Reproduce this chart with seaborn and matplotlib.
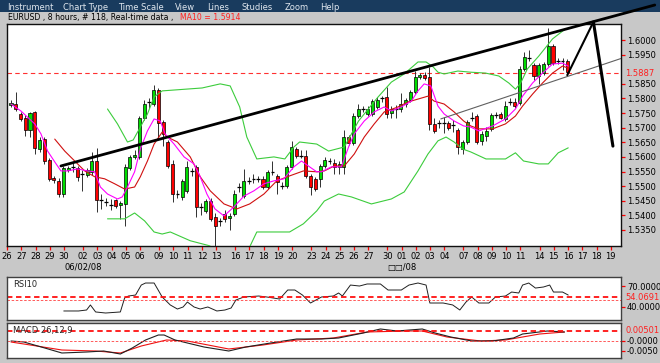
import numpy as np
import pandas as pd
import matplotlib
matplotlib.use('Agg')
import matplotlib.pyplot as plt
import matplotlib.transforms as mtransforms
from matplotlib.patches import Rectangle
import seaborn as sns

# ---------------- data ----------------
opens = [1.5778, 1.5781, 1.5747, 1.5733, 1.5692, 1.5754, 1.5627, 1.5661, 1.5589, 1.5528,
         1.5518, 1.5473, 1.5555, 1.5566, 1.5562, 1.5540, 1.5538, 1.5549, 1.5586, 1.5453,
         1.5446, 1.5436, 1.5453, 1.5436, 1.5439, 1.5562, 1.5600, 1.5600, 1.5733, 1.5788,
         1.5781, 1.5829, 1.5720, 1.5651, 1.5576, 1.5473, 1.5463, 1.5484, 1.5552, 1.5566,
         1.5429, 1.5415, 1.5449, 1.5395, 1.5379, 1.5405, 1.5391, 1.5405, 1.5497, 1.5466,
         1.5518, 1.5525, 1.5525, 1.5525, 1.5497, 1.5549, 1.5535, 1.5501, 1.5501, 1.5566,
         1.5627, 1.5603, 1.5603, 1.5535, 1.5525, 1.5525, 1.5569, 1.5586, 1.5579, 1.5566,
         1.5566, 1.5668, 1.5648, 1.5740, 1.5764, 1.5747, 1.5747, 1.5771, 1.5800, 1.5805,
         1.5750, 1.5764, 1.5764, 1.5781, 1.5795, 1.5822, 1.5873, 1.5880, 1.5873, 1.5713,
         1.5715, 1.5715, 1.5716, 1.5708, 1.5692, 1.5627, 1.5651, 1.5732, 1.5740, 1.5655,
         1.5672, 1.5696, 1.5742, 1.5747, 1.5730, 1.5787, 1.5788, 1.5785, 1.5901, 1.5937,
         1.5914, 1.5877, 1.5887, 1.5918, 1.5979, 1.5927, 1.5927, 1.5928]
highs = [1.5795, 1.5822, 1.5754, 1.5743, 1.5754, 1.5757, 1.5668, 1.5668, 1.5596, 1.5535,
         1.5528, 1.5569, 1.5569, 1.5579, 1.5569, 1.5555, 1.5562, 1.5617, 1.5631, 1.5473,
         1.5460, 1.5456, 1.5456, 1.5449, 1.5576, 1.5607, 1.5624, 1.5740, 1.5795, 1.5802,
         1.5846, 1.5836, 1.5726, 1.5658, 1.5589, 1.5487, 1.5525, 1.5586, 1.5562, 1.5572,
         1.5442, 1.5456, 1.5460, 1.5408, 1.5391, 1.5418, 1.5408, 1.5487, 1.5511, 1.5559,
         1.5532, 1.5542, 1.5535, 1.5535, 1.5555, 1.5586, 1.5542, 1.5514, 1.5572, 1.5655,
         1.5634, 1.5624, 1.5624, 1.5542, 1.5532, 1.5576, 1.5600, 1.5596, 1.5593, 1.5586,
         1.5692, 1.5675, 1.5750, 1.5781, 1.5774, 1.5774, 1.5798, 1.5805, 1.5808, 1.5839,
         1.5774, 1.5778, 1.5819, 1.5802, 1.5829, 1.5894, 1.5887, 1.5890, 1.5908, 1.5733,
         1.5726, 1.5737, 1.5723, 1.5726, 1.5699, 1.5658, 1.5726, 1.5754, 1.5747, 1.5689,
         1.5702, 1.5750, 1.5754, 1.5754, 1.5791, 1.5802, 1.5802, 1.5911, 1.5959, 1.5966,
         1.5921, 1.5921, 1.5925, 1.6041, 1.5986, 1.5938, 1.5938, 1.5935]
lows = [1.5771, 1.5757, 1.5723, 1.5672, 1.5668, 1.5610, 1.5617, 1.5576, 1.5518, 1.5511,
        1.5463, 1.5463, 1.5549, 1.5549, 1.5518, 1.5484, 1.5532, 1.5538, 1.5412, 1.5422,
        1.5432, 1.5418, 1.5425, 1.5388, 1.5364, 1.5555, 1.5593, 1.5593, 1.5726, 1.5767,
        1.5774, 1.5665, 1.5638, 1.5562, 1.5446, 1.5460, 1.5453, 1.5477, 1.5535, 1.5395,
        1.5401, 1.5408, 1.5381, 1.5292, 1.5364, 1.5377, 1.5350, 1.5398, 1.5480, 1.5460,
        1.5508, 1.5511, 1.5514, 1.5490, 1.5490, 1.5538, 1.5473, 1.5490, 1.5494, 1.5559,
        1.5596, 1.5596, 1.5528, 1.5470, 1.5484, 1.5497, 1.5562, 1.5576, 1.5542, 1.5542,
        1.5542, 1.5641, 1.5641, 1.5733, 1.5754, 1.5740, 1.5740, 1.5764, 1.5788, 1.5733,
        1.5733, 1.5733, 1.5754, 1.5771, 1.5788, 1.5815, 1.5867, 1.5863, 1.5692, 1.5682,
        1.5699, 1.5682, 1.5692, 1.5685, 1.5610, 1.5610, 1.5644, 1.5723, 1.5644, 1.5641,
        1.5655, 1.5689, 1.5733, 1.5730, 1.5723, 1.5778, 1.5767, 1.5778, 1.5894, 1.5928,
        1.5863, 1.5850, 1.5880, 1.5911, 1.5914, 1.5918, 1.5897, 1.5880]
closes = [1.5785, 1.5764, 1.5730, 1.5692, 1.5750, 1.5631, 1.5658, 1.5586, 1.5525, 1.5521,
          1.5473, 1.5562, 1.5562, 1.5566, 1.5532, 1.5540, 1.5555, 1.5586, 1.5453, 1.5453,
          1.5446, 1.5436, 1.5432, 1.5442, 1.5566, 1.5600, 1.5607, 1.5733, 1.5781, 1.5788,
          1.5829, 1.5716, 1.5679, 1.5569, 1.5473, 1.5473, 1.5518, 1.5566, 1.5552, 1.5429,
          1.5429, 1.5449, 1.5388, 1.5364, 1.5379, 1.5388, 1.5398, 1.5473, 1.5497, 1.5518,
          1.5518, 1.5525, 1.5525, 1.5497, 1.5549, 1.5549, 1.5514, 1.5501, 1.5566, 1.5634,
          1.5603, 1.5603, 1.5535, 1.5497, 1.5490, 1.5569, 1.5589, 1.5586, 1.5566, 1.5576,
          1.5668, 1.5648, 1.5740, 1.5764, 1.5764, 1.5764, 1.5791, 1.5795, 1.5800, 1.5747,
          1.5764, 1.5764, 1.5781, 1.5795, 1.5822, 1.5873, 1.5880, 1.5870, 1.5713, 1.5689,
          1.5715, 1.5715, 1.5699, 1.5708, 1.5634, 1.5651, 1.5720, 1.5732, 1.5651, 1.5679,
          1.5689, 1.5743, 1.5742, 1.5733, 1.5774, 1.5787, 1.5774, 1.5901, 1.5942, 1.5937,
          1.5877, 1.5914, 1.5918, 1.5979, 1.5921, 1.5927, 1.5927, 1.5890]

# moving averages / bands: (candle index, price)
ma_fast_x = [0, 2.1, 5.0, 6.3, 7.7, 9.2, 10.5, 11.9, 14.0, 16.1, 17.6, 18.8, 20.3, 22.4, 23.4, 24.5,
             26.0, 27.2, 28.7, 30.1, 31.4, 32.4, 34.3, 36.4, 38.5, 39.8, 41.2, 42.9, 44.8, 46.9,
             49.0, 51.1, 53.2, 55.3, 57.4, 59.5, 61.1, 62.8, 64.3, 65.3, 67.4, 69.5, 71.0, 72.2,
             74.3, 76.4, 78.5, 80.0, 82.1, 84.2, 85.6, 86.9, 88.3, 89.8, 91.1, 93.2, 95.2, 96.7,
             98.4, 101.3, 104.0, 106.1, 107.6, 109.7, 111.8, 113.9, 116.0, 117.2]
ma_fast_y = [1.5781, 1.5757, 1.5713, 1.5679, 1.5620, 1.5583, 1.5552, 1.5552, 1.5559, 1.5552,
             1.5549, 1.5497, 1.5473, 1.5456, 1.5463, 1.5497, 1.5549, 1.5627, 1.5689, 1.5730,
             1.5723, 1.5679, 1.5644, 1.5600, 1.5576, 1.5532, 1.5473, 1.5422, 1.5398, 1.5429,
             1.5466, 1.5484, 1.5508, 1.5518, 1.5525, 1.5566, 1.5586, 1.5566, 1.5549, 1.5549,
             1.5566, 1.5566, 1.5634, 1.5679, 1.5723, 1.5754, 1.5771, 1.5757, 1.5771, 1.5791,
             1.5826, 1.5850, 1.5843, 1.5774, 1.5747, 1.5723, 1.5706, 1.5702, 1.5689, 1.5706,
             1.5730, 1.5764, 1.5808, 1.5853, 1.5887, 1.5918, 1.5921, 1.5911]
ma_slow_x = [9.2, 11.3, 13.4, 15.5, 17.6, 19.7, 21.8, 23.9, 26.0, 27.2, 28.7, 30.1, 31.8, 32.9,
             35.0, 37.7, 39.8, 41.9, 44.8, 47.5, 50.2, 53.2, 55.9, 58.6, 61.5, 64.3, 65.9, 68.0,
             70.1, 72.2, 74.3, 76.4, 78.5, 81.4, 83.5, 85.6, 87.7, 89.0, 91.1, 93.2, 95.2, 96.7,
             98.4, 101.3, 104.0, 106.1, 107.6, 109.7, 111.8, 113.9, 116.0, 117.2]
ma_slow_y = [1.5661, 1.5620, 1.5586, 1.5552, 1.5532, 1.5525, 1.5508, 1.5490, 1.5497, 1.5532,
             1.5586, 1.5644, 1.5685, 1.5668, 1.5651, 1.5600, 1.5532, 1.5484, 1.5439, 1.5422,
             1.5439, 1.5473, 1.5518, 1.5535, 1.5552, 1.5549, 1.5552, 1.5569, 1.5569, 1.5610,
             1.5668, 1.5713, 1.5754, 1.5771, 1.5788, 1.5798, 1.5808, 1.5791, 1.5781, 1.5754,
             1.5723, 1.5706, 1.5696, 1.5696, 1.5713, 1.5740, 1.5774, 1.5815, 1.5853, 1.5887,
             1.5911, 1.5904]
band_up_x = [20.3, 22.4, 24.5, 25.7, 27.2, 28.7, 30.1, 31.8, 40.2, 44.0, 46.1, 48.1, 49.6, 51.7,
             55.3, 57.6, 59.5, 60.7, 64.3, 66.8, 70.1, 73.1, 77.2, 80.0, 82.7, 85.6, 87.3, 88.8,
             89.8, 91.1, 94.0, 96.7, 99.8, 102.6, 104.7, 106.1, 107.2, 108.6, 111.0, 113.9, 116.6]
band_up_y = [1.5764, 1.5713, 1.5651, 1.5658, 1.5702, 1.5747, 1.5805, 1.5826, 1.5836, 1.5850,
             1.5843, 1.5771, 1.5668, 1.5593, 1.5600, 1.5593, 1.5634, 1.5651, 1.5644, 1.5620,
             1.5634, 1.5723, 1.5805, 1.5856, 1.5884, 1.5925, 1.5925, 1.5908, 1.5890, 1.5884,
             1.5894, 1.5890, 1.5887, 1.5877, 1.5853, 1.5832, 1.5853, 1.5901, 1.5945, 1.6004,
             1.6038]
band_lo_x = [20.3, 23.9, 26.0, 28.1, 30.1, 31.8, 33.5, 37.7, 41.7, 42.9, 46.5, 50.0, 51.7, 58.6,
             61.5, 64.3, 65.9, 68.9, 71.6, 75.8, 80.0, 82.7, 85.6, 87.7, 89.8, 91.5, 93.2, 95.0,
             96.7, 99.9, 104.0, 106.1, 107.8, 111.0, 113.0, 115.1, 117.2]
band_lo_y = [1.5388, 1.5388, 1.5408, 1.5381, 1.5343, 1.5336, 1.5343, 1.5313, 1.5296, 1.5285,
             1.5261, 1.5285, 1.5343, 1.5343, 1.5371, 1.5415, 1.5449, 1.5473, 1.5463, 1.5439,
             1.5456, 1.5480, 1.5552, 1.5610, 1.5655, 1.5668, 1.5651, 1.5627, 1.5617, 1.5593,
             1.5593, 1.5614, 1.5586, 1.5576, 1.5576, 1.5614, 1.5631]

# drawn trend lines (candle index, price)
trend_x = [10.5, 135.4]
trend_y = [1.5569, 1.6120]
channel_x = [90.4, 128.5]
channel_y = [1.5730, 1.5938]
proj_up_x = [117.0, 122.5]
proj_up_y = [1.5880, 1.6062]
proj_dn_x = [122.5, 126.6]
proj_dn_y = [1.6062, 1.5637]
last_price = 1.5887

# RSI (10)
rsi_x = [11.1, 14.2, 15.9, 16.7, 17.8, 19.9, 23.0, 23.9, 24.7, 26.2, 27.4, 28.3, 30.1, 31.8, 33.5,
         35.0, 36.2, 37.1, 38.5, 39.8, 41.4, 43.3, 45.0, 46.3, 47.3, 49.0, 52.1, 53.8, 56.5, 58.2,
         59.7, 61.3, 63.0, 65.3, 67.8, 68.9, 69.7, 71.4, 73.3, 74.9, 77.7, 79.3, 82.1, 83.7, 85.6,
         87.3, 88.1, 90.9, 92.9, 94.4, 95.7, 96.9, 98.4, 100.5, 101.9, 104.0, 105.3, 106.8, 107.6,
         108.9, 110.3, 112.0, 113.3, 114.1, 116.0, 117.2]
rsi_y = [34.3, 34.3, 35.7, 42.9, 32.9, 31.4, 32.9, 52.9, 55.7, 57.1, 71.4, 74.3, 74.3, 54.3, 42.9,
         37.1, 40.0, 47.1, 40.0, 37.1, 40.0, 34.3, 35.7, 38.6, 50.0, 54.3, 55.7, 54.3, 51.4, 64.3,
         64.3, 57.1, 45.7, 54.3, 55.7, 60.0, 55.7, 71.4, 70.0, 72.9, 72.9, 64.3, 64.3, 71.4, 74.3,
         71.4, 45.7, 45.7, 42.9, 35.7, 47.1, 54.3, 45.7, 45.7, 54.3, 55.7, 61.4, 60.0, 71.4,
         74.3, 67.1, 68.6, 71.4, 61.4, 61.4, 57.1]
rsi_level = 54.0691
rsi_mid = 50.0

# MACD (26,12,9)
macd_x = [0, 2.7, 7.1, 10.7, 15.9, 19.5, 23.0, 25.5, 28.3, 31.0, 32.2, 34.5, 37.1, 40.6, 45.8,
          49.4, 54.6, 60.1, 65.3, 68.9, 74.1, 77.7, 81.2, 86.5, 89.2, 92.5, 96.9, 101.3, 105.7,
          107.6, 112.8, 116.4]
macd_y = [0.0, -0.0005, -0.0035, -0.006, -0.0055, -0.005, -0.0065, -0.0035, 0.0005, 0.003,
          0.003, 0.0005, -0.001, -0.003, -0.005, -0.003, -0.001, 0.001, 0.001, 0.0015, 0.004,
          0.006, 0.005, 0.006, 0.004, 0.002, 0.0, 0.0, 0.0015, 0.0035, 0.005, 0.0045]
signal_x = [0, 5.4, 10.7, 17.8, 23.0, 27.4, 32.7, 37.1, 45.8, 53.0, 60.1, 67.8, 74.9, 82.9, 86.5,
            91.7, 98.8, 104.0, 111.2, 116.4]
signal_y = [-0.0005, -0.0025, -0.0045, -0.005, -0.006, -0.0025, 0.0005, 0.0, -0.004, -0.002,
            0.0005, 0.0015, 0.0045, 0.005, 0.005, 0.002, 0.0, 0.0005, 0.0035, 0.0045]
macd_level = 0.00501

# calendar (trading days shown on the axis)
trade_days = list(pd.bdate_range('2008-05-26', '2008-07-18')) + [pd.Timestamp('2008-07-19')]
price_ticks = [1.5350, 1.5400, 1.5450, 1.5500, 1.5550, 1.5600, 1.5650, 1.5700, 1.5750,
               1.5800, 1.5850, 1.5950, 1.6000]
month_labels = {'2008-06-02': '06/02/08', '2008-07-01': '□□/08'}
menu_items = ['Instrument', 'Chart Type', 'Time Scale', 'View', 'Lines', 'Studies', 'Zoom', 'Help']
menu_px = [7, 63, 118, 175, 207, 241, 285, 320]

# ---------------- drawing ----------------
sns.set_style('white')
plt.rcParams['font.family'] = ['DejaVu Sans']

W, H = 660, 363
BG = '#c8c8c8'
fig = plt.figure(figsize=(6.6, 3.63), dpi=100, facecolor=BG)


def box(x0, y0, x1, y1):
    return [x0 / W, 1 - y1 / H, (x1 - x0) / W, (y1 - y0) / H]


# menu bar (drawn beneath everything)
fig.patches.append(Rectangle((0, 1 - 12 / H), 1, 12 / H, transform=fig.transFigure,
                             facecolor='#193b5e', edgecolor='none', zorder=-5))
for name, px in zip(menu_items, menu_px):
    fig.text(px / W, 1 - 7.5 / H, name, color='#dfe6ee', fontsize=6, va='center', ha='left',
             zorder=-4)
fig.text(8 / W, 1 - 17.5 / H, 'EURUSD , 8 hours, # 118, Real-time data , ',
         fontsize=5.6, va='center', ha='left', color='black', zorder=-4)
fig.text(180 / W, 1 - 17.5 / H, 'MA10 = 1.5914', fontsize=5.6, va='center', ha='left',
         color='#ff2020', zorder=-4)

ax = fig.add_axes(box(7, 24, 621, 246))
ax_rsi = fig.add_axes(box(7, 277, 621, 320), sharex=ax)
ax_macd = fig.add_axes(box(7, 323, 621, 358), sharex=ax)

o = np.array(opens); c = np.array(closes); h = np.array(highs); l = np.array(lows)
idx = np.arange(len(o))

# candles
ax.vlines(idx, l, h, color='#303030', lw=0.7, zorder=2)
body = c != o
cols = np.where(c > o, '#00dd00', '#ff0000')
ax.bar(idx[body], (c - o)[body], bottom=o[body], width=0.64, color=cols[body],
       edgecolor='black', linewidth=0.5, zorder=3)
doji = ~body
ax.hlines(o[doji], idx[doji] - 0.4, idx[doji] + 0.4, color='black', lw=0.9, zorder=3)

# indicators
sns.lineplot(x=band_up_x, y=band_up_y, ax=ax, color='#3ccc3c', lw=0.8, sort=False, estimator=None, zorder=4)
sns.lineplot(x=band_lo_x, y=band_lo_y, ax=ax, color='#3ccc3c', lw=0.8, sort=False, estimator=None, zorder=4)
sns.lineplot(x=ma_slow_x, y=ma_slow_y, ax=ax, color='#d01010', lw=0.8, sort=False, estimator=None, zorder=4)
sns.lineplot(x=ma_fast_x, y=ma_fast_y, ax=ax, color='#ff00ff', lw=0.8, sort=False, estimator=None, zorder=4)

ax.axhline(last_price, color='#ff3030', lw=0.8, ls=(0, (4, 3)), zorder=1)

# drawn lines
sns.lineplot(x=channel_x, y=channel_y, ax=ax, color='#606060', lw=0.8, sort=False, estimator=None, zorder=5)
sns.lineplot(x=trend_x, y=trend_y, ax=ax, color='black', lw=2.0, sort=False, estimator=None,
             zorder=6, clip_on=False)
sns.lineplot(x=proj_up_x, y=proj_up_y, ax=ax, color='black', lw=1.5, sort=False, estimator=None,
             zorder=6, clip_on=False)
sns.lineplot(x=proj_dn_x, y=proj_dn_y, ax=ax, color='black', lw=2.2, sort=False, estimator=None,
             zorder=6, clip_on=False)

ax.set_xlim(-0.2, 128.3)
ax.set_ylim(1.5295, 1.6055)
ax.set_xlabel('')
ax.set_ylabel('')

# x ticks from the calendar
pos = [-0.84]
for prev, cur in zip(trade_days[:-1], trade_days[1:]):
    pos.append(pos[-1] + (4 if (cur - prev).days > 1 else 3))
ax.set_xticks(pos, [d.strftime('%d') for d in trade_days])
ax.tick_params(axis='x', colors='red', labelcolor='black', length=3, width=0.9,
               labelsize=6, pad=1.5, bottom=True)
btrans = mtransforms.blended_transform_factory(ax.transData, fig.transFigure)
for d, p in zip(trade_days, pos):
    key = d.strftime('%Y-%m-%d')
    if key in month_labels:
        ax.text(p, 1 - 267.5 / H, month_labels[key], transform=btrans, ha='center',
                va='center', fontsize=6, color='black', clip_on=False)

ax.yaxis.tick_right()
ax.set_yticks(price_ticks, [f'{v:.4f}' for v in price_ticks])
ax.tick_params(axis='y', colors='red', labelcolor='black', length=3, width=0.9,
               labelsize=6, pad=1.2, right=True, left=False)
ax.annotate(f'{last_price:.4f}', xy=(1, last_price), xycoords=('axes fraction', 'data'),
            xytext=(3.3, 0), textcoords='offset points', color='#ff2020', fontsize=6,
            va='center', ha='left', annotation_clip=False)
for s in ax.spines.values():
    s.set_color('#101010'); s.set_linewidth(1.0)
ax.set_facecolor('white')

# RSI panel
sns.lineplot(x=rsi_x, y=rsi_y, ax=ax_rsi, color='#202020', lw=0.7, sort=False, estimator=None)
ax_rsi.axhline(rsi_level, color='#ff1010', lw=1.3, ls=(0, (3, 2)))
ax_rsi.axhline(rsi_mid, color='#ff4040', lw=0.6, ls=(0, (3, 2)))
ax_rsi.set_ylim(21.4, 82.9)
ax_rsi.yaxis.tick_right()
ax_rsi.set_yticks([70, 40], ['70.0000', '40.0000'])
ax_rsi.tick_params(axis='y', colors='red', labelcolor='black', length=3, width=0.9,
                   labelsize=6, pad=1.2, right=True, left=False)
ax_rsi.annotate(f'{rsi_level:.4f}', xy=(1, rsi_level), xycoords=('axes fraction', 'data'),
                xytext=(3.3, 0), textcoords='offset points', color='#ff2020', fontsize=6,
                va='center', ha='left', annotation_clip=False)
ax_rsi.text(6 / 614, 0.82, 'RSI10', transform=ax_rsi.transAxes, fontsize=6, va='center')

# MACD panel
sns.lineplot(x=signal_x, y=signal_y, ax=ax_macd, color='#ee1010', lw=0.8, sort=False, estimator=None)
sns.lineplot(x=macd_x, y=macd_y, ax=ax_macd, color='#202020', lw=0.8, sort=False, estimator=None)
ax_macd.axhline(macd_level, color='#ff1010', lw=1.3, ls=(0, (3, 2)))
ax_macd.axhline(0, color='#ff4040', lw=0.6, ls=(0, (3, 2)))
ax_macd.set_ylim(-0.0085, 0.009)
ax_macd.yaxis.tick_right()
ax_macd.set_yticks([0, -0.005], ['-0.0000', '-0.0050'])
ax_macd.tick_params(axis='y', colors='red', labelcolor='black', length=3, width=0.9,
                    labelsize=6, pad=1.2, right=True, left=False)
ax_macd.annotate(f'{macd_level:.5f}', xy=(1, macd_level), xycoords=('axes fraction', 'data'),
                 xytext=(3.3, 0), textcoords='offset points', color='#ff2020', fontsize=6,
                 va='center', ha='left', annotation_clip=False)
ax_macd.text(6 / 614, 0.78, 'MACD 26,12,9', transform=ax_macd.transAxes, fontsize=6, va='center')

for a in (ax_rsi, ax_macd):
    a.set_facecolor('white')
    a.set_xlabel(''); a.set_ylabel('')
    a.tick_params(axis='x', bottom=False, labelbottom=False)
    for s in a.spines.values():
        s.set_color('#404040'); s.set_linewidth(1.0)

fig.savefig('out.png', dpi=100, facecolor=BG)
